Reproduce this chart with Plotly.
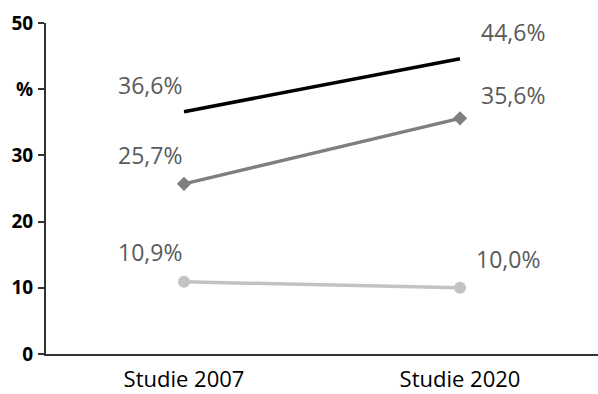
import plotly.graph_objects as go

categories = ["Studie 2007", "Studie 2020"]
series_black = [36.6, 44.6]
series_gray = [25.7, 35.6]
series_light = [10.9, 10.0]
y_tickvals = [0, 10, 20, 30, 40, 50]
y_ticktext = ["0", "10", "20", "30", "%", "50"]

def fmt(v):
    return f"{v:.1f}".replace(".", ",") + "%"

fig = go.Figure()
fig.add_trace(go.Scatter(x=categories, y=series_black, mode="lines",
                         line=dict(color="#000000", width=3.5)))
fig.add_trace(go.Scatter(x=categories, y=series_gray, mode="lines+markers",
                         line=dict(color="#7f7f7f", width=3.5),
                         marker=dict(symbol="diamond", size=11, color="#7f7f7f")))
fig.add_trace(go.Scatter(x=categories, y=series_light, mode="lines+markers",
                         line=dict(color="#c3c3c3", width=3.5),
                         marker=dict(symbol="circle", size=12, color="#c3c3c3")))

label_font = dict(family="Open Sans", size=23, color="#5a5a5a")
shifts = {
    "black": [(-34, 27), (53, 27)],
    "gray": [(-34, 29), (53, 23)],
    "light": [(-34, 30), (48, 29)],
}
for key, vals in (("black", series_black), ("gray", series_gray), ("light", series_light)):
    for i, v in enumerate(vals):
        dx, dy = shifts[key][i]
        fig.add_annotation(x=categories[i], y=v, text=fmt(v), showarrow=False,
                           xshift=dx, yshift=dy, font=label_font)

fig.update_layout(
    width=598, height=394,
    margin=dict(l=46, r=0, t=23, b=40),
    paper_bgcolor="white", plot_bgcolor="white",
    showlegend=False,
    font=dict(family="Open Sans"),
)
fig.update_xaxes(range=[-0.5, 1.5], showgrid=False, zeroline=False,
                 showline=True, linecolor="#333333", linewidth=2,
                 ticks="", ticklabelstandoff=5, automargin=False,
                 tickfont=dict(family="Open Sans", size=22, color="#000000"))
fig.update_yaxes(range=[0, 50], tickvals=y_tickvals, ticktext=y_ticktext,
                 showgrid=False, zeroline=False, showline=True,
                 linecolor="#333333", linewidth=2, ticks="outside", ticklen=6,
                 tickcolor="#333333", tickwidth=1.5, ticklabelstandoff=1,
                 automargin=False,
                 tickfont=dict(family="Open Sans", size=19, color="#000000", weight="bold"))

fig.write_html("out.html")
